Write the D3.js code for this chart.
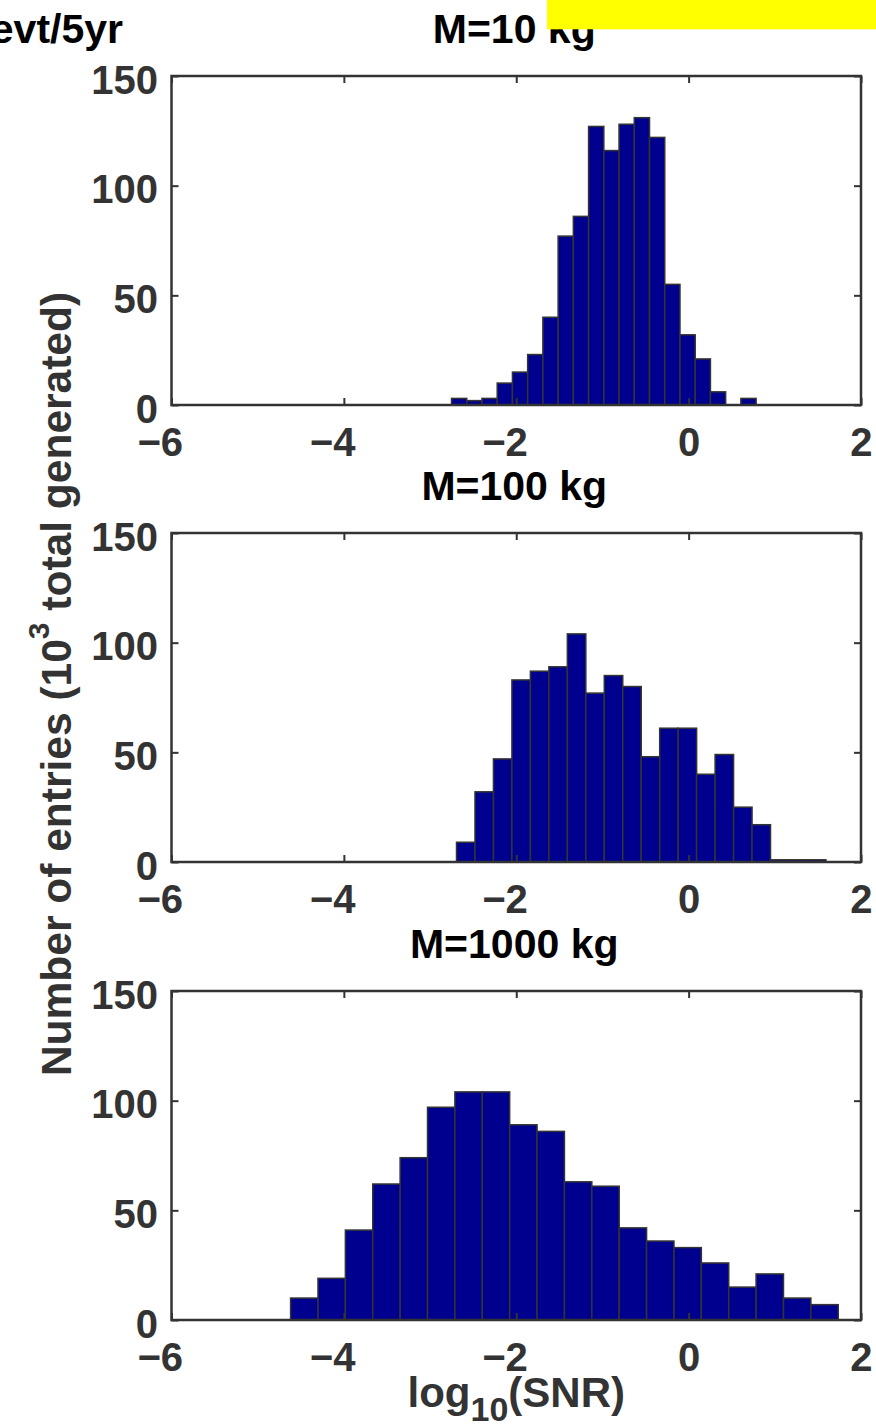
<html>
    <head>
        <script src="https://d3js.org/d3.v7.min.js"></script>
        <style>
            body { margin: 0; background: white; }
            text { font-family: "Liberation Sans", Arial, Helvetica, sans-serif; font-weight: bold; }
            .axis .domain { stroke: none; }
            .axis line { stroke: #333; stroke-width: 2; }
            .axis text { font-size: 40px; fill: #333; }
        </style>
    </head>
    <body>
        <svg height="1428" width="876" id="hists"></svg>

        <script>
            // tick labels
            const xTicks = [-6, -4, -2, 0, 2];
            const yTicks = [0, 50, 100, 150];

            // panel titles
            const titles = ["M=10 kg", "M=100 kg", "M=1000 kg"];

            // histogram ranges (min, max of the data) and counts per bin
            const range10 = [-2.751, 0.783];
            const counts10 = [3, 2, 3, 10, 15, 23, 40, 77, 86, 127, 116, 128, 131, 122, 55, 32, 21, 6, 0, 3];

            const range100 = [-2.693, 1.593];
            const counts100 = [9, 32, 47, 83, 87, 89, 104, 77, 85, 80, 48, 61, 61, 40, 49, 25, 17, 1, 1, 1];

            const range1000 = [-4.618, 1.736];
            const counts1000 = [10, 19, 41, 62, 74, 97, 104, 104, 89, 86, 63, 61, 42, 36, 33, 26, 15, 21, 10, 7];

            const svg = d3.select("#hists");
            const left = 171.5, right = 861;
            const panelHeight = 329;
            const panelTops = [76, 533, 991];

            const panels = [
                { title: titles[0], range: range10, counts: counts10 },
                { title: titles[1], range: range100, counts: counts100 },
                { title: titles[2], range: range1000, counts: counts1000 }
            ];

            const xScale = d3.scaleLinear().domain([-6, 2]).range([left, right]);

            panels.forEach(function (p, k) {
                const top = panelTops[k];
                const bottom = top + panelHeight;
                const yScale = d3.scaleLinear().domain([0, 150]).range([bottom, top]);

                // equal width bins, like matlab hist
                const n = p.counts.length;
                const w = (p.range[1] - p.range[0]) / n;
                const bins = p.counts.map((c, i) => ({ x0: p.range[0] + i * w, x1: p.range[0] + (i + 1) * w, count: c }));

                const g = svg.append("g").attr("class", "panel");

                g.selectAll("rect.bar")
                    .data(bins.filter(b => b.count > 0))
                    .join("rect")
                    .attr("class", "bar")
                    .attr("x", d => xScale(d.x0))
                    .attr("width", d => xScale(d.x1) - xScale(d.x0))
                    .attr("y", d => yScale(d.count))
                    .attr("height", d => yScale(0) - yScale(d.count))
                    .attr("fill", "#00008f")
                    .attr("stroke", "#333")
                    .attr("stroke-width", 1.5);

                // bottom axis with labels
                const bottomAxis = d3.axisBottom(xScale).tickValues(xTicks)
                    .tickSizeInner(-7).tickSizeOuter(0)
                    .tickFormat(d => d < 0 ? "\u2212" + Math.abs(d) : String(d));
                g.append("g").attr("class", "axis")
                    .attr("transform", `translate(0,${bottom})`)
                    .call(bottomAxis)
                    .selectAll("text")
                    .attr("text-anchor", "end")
                    .attr("x", 11)
                    .attr("y", 51)
                    .attr("dy", 0);

                // top axis, ticks only
                g.append("g").attr("class", "axis")
                    .attr("transform", `translate(0,${top})`)
                    .call(d3.axisTop(xScale).tickValues(xTicks).tickSizeInner(-7).tickSizeOuter(0).tickFormat(""));

                // left axis with labels
                g.append("g").attr("class", "axis")
                    .attr("transform", `translate(${left},0)`)
                    .call(d3.axisLeft(yScale).tickValues(yTicks).tickSizeInner(-7).tickSizeOuter(0).tickPadding(13.5))
                    .selectAll("text")
                    .attr("dy", "0.43em");

                // right axis, ticks only
                g.append("g").attr("class", "axis")
                    .attr("transform", `translate(${right},0)`)
                    .call(d3.axisRight(yScale).tickValues(yTicks).tickSizeInner(-7).tickSizeOuter(0).tickFormat(""));

                // box
                g.append("rect")
                    .attr("x", left).attr("y", top)
                    .attr("width", right - left).attr("height", panelHeight)
                    .attr("fill", "none")
                    .attr("stroke", "#333")
                    .attr("stroke-width", 2.5);

                g.append("text")
                    .attr("x", (left + right) / 2 - 2)
                    .attr("y", top - 33)
                    .attr("text-anchor", "middle")
                    .style("font-size", "41px")
                    .attr("fill", "#000")
                    .text(p.title);
            });

            // y label
            const ylab = svg.append("text")
                .attr("transform", "translate(71,684) rotate(-90)")
                .attr("text-anchor", "middle")
                .style("font-size", "42.5px")
                .attr("fill", "#333");
            ylab.append("tspan").text("Number of entries (10");
            ylab.append("tspan").attr("dy", -22).style("font-size", "30px").text("3");
            ylab.append("tspan").attr("dy", 22).text(" total generated)");

            // x label
            const xlab = svg.append("text")
                .attr("x", (left + right) / 2)
                .attr("y", 1406.7)
                .attr("text-anchor", "middle")
                .style("font-size", "42px")
                .attr("fill", "#333");
            xlab.append("tspan").text("log");
            xlab.append("tspan").attr("dy", 14).style("font-size", "34px").text("10");
            xlab.append("tspan").attr("dy", -14).text("(SNR)");

            // corner label
            svg.append("text")
                .attr("x", 123)
                .attr("y", 43.3)
                .attr("text-anchor", "end")
                .style("font-size", "41px")
                .attr("fill", "#000")
                .text("evt/5yr");

            // yellow patch over the top
            svg.append("rect")
                .attr("x", 547).attr("y", 0)
                .attr("width", 876 - 547).attr("height", 29.3)
                .attr("fill", "#ffff00");
        </script>
    </body>
</html>
